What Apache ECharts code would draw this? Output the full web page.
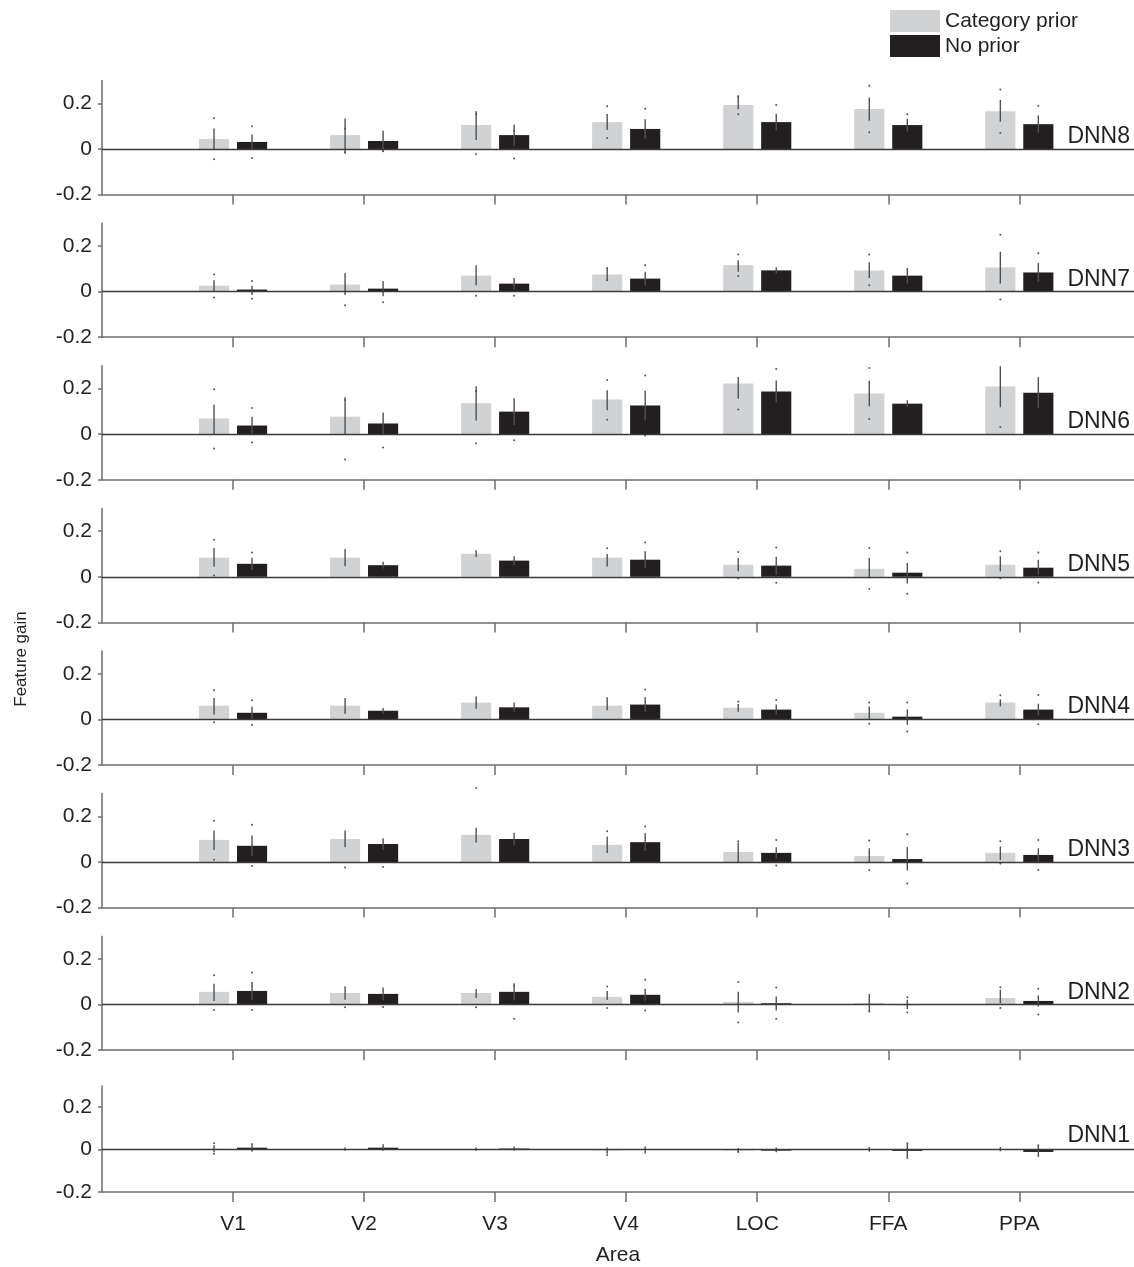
<!DOCTYPE html>
<html>
<head>
<meta charset="utf-8">
<script src="https://cdn.jsdelivr.net/npm/echarts@6/dist/echarts.min.js"></script>
<style>
html,body{margin:0;padding:0;background:#fff;}
#chart{width:1134px;height:1267px;}
</style>
</head>
<body>
<div id="chart"></div>
<script>
// ---------------- DATA ----------------
const layers = ['DNN8','DNN7','DNN6','DNN5','DNN4','DNN3','DNN2','DNN1'];
const areas = ['V1','V2','V3','V4','LOC','FFA','PPA'];
const yTicks = [-0.2, 0, 0.2];

// Category prior (light bars): mean per layer (rows) x area (cols)
const priorMean = [
  [0.044, 0.061, 0.105, 0.118, 0.193, 0.175, 0.166],
  [0.026, 0.031, 0.070, 0.075, 0.116, 0.093, 0.106],
  [0.069, 0.077, 0.136, 0.152, 0.222, 0.178, 0.209],
  [0.084, 0.084, 0.101, 0.084, 0.053, 0.035, 0.053],
  [0.060, 0.060, 0.074, 0.060, 0.051, 0.029, 0.074],
  [0.097, 0.101, 0.119, 0.075, 0.044, 0.026, 0.040],
  [0.056, 0.051, 0.051, 0.034, 0.012, 0.007, 0.029],
  [0.004, 0.003, 0.003, -0.004, -0.005, 0.003, 0.003]
];
const priorErrLo = [
  [0.000, -0.020, 0.040, 0.083, 0.174, 0.124, 0.120],
  [0.000, -0.015, 0.028, 0.046, 0.087, 0.060, 0.035],
  [0.000, 0.000, 0.060, 0.105, 0.155, 0.123, 0.118],
  [0.044, 0.046, 0.087, 0.045, 0.024, -0.006, 0.024],
  [0.021, 0.025, 0.047, 0.040, 0.034, 0.000, 0.057],
  [0.053, 0.065, 0.085, 0.040, 0.000, -0.003, 0.009],
  [0.016, 0.021, 0.029, 0.020, -0.035, -0.030, 0.006],
  [-0.012, -0.005, -0.005, -0.020, -0.015, -0.010, -0.008]
];
const priorErrHi = [
  [0.090, 0.134, 0.166, 0.153, 0.236, 0.226, 0.215],
  [0.050, 0.082, 0.116, 0.104, 0.138, 0.129, 0.175],
  [0.130, 0.162, 0.210, 0.193, 0.251, 0.234, 0.298],
  [0.126, 0.122, 0.116, 0.100, 0.082, 0.082, 0.090],
  [0.094, 0.094, 0.100, 0.097, 0.068, 0.057, 0.088],
  [0.138, 0.138, 0.150, 0.112, 0.085, 0.060, 0.068],
  [0.091, 0.081, 0.068, 0.060, 0.056, 0.047, 0.065],
  [0.020, 0.010, 0.010, 0.010, 0.008, 0.012, 0.012]
];
const priorDotHi = [
  [0.135, 0.090, 0.152, 0.188, 0.228, 0.277, 0.261],
  [0.075, null, null, 0.104, 0.163, 0.163, 0.249],
  [0.197, 0.150, 0.190, 0.238, null, 0.290, null],
  [0.162, null, null, 0.125, 0.109, 0.126, 0.112],
  [0.128, null, null, null, 0.079, 0.074, 0.106],
  [0.181, null, 0.325, 0.135, 0.091, 0.094, 0.091],
  [0.129, null, null, 0.079, 0.099, null, 0.076],
  [0.030, null, null, null, null, null, null]
];
const priorDotLo = [
  [-0.045, -0.015, -0.023, 0.048, 0.152, 0.074, 0.070],
  [-0.026, -0.060, -0.018, 0.050, 0.068, 0.028, -0.035],
  [-0.063, -0.111, -0.040, 0.063, 0.108, 0.067, 0.032],
  [0.006, null, null, null, -0.006, -0.053, -0.006],
  [-0.012, null, null, null, null, -0.019, null],
  [0.010, -0.024, null, null, null, -0.035, -0.007],
  [-0.024, -0.012, -0.012, -0.015, -0.079, -0.030, -0.015],
  [-0.020, null, null, -0.025, -0.010, null, null]
];

// No prior (dark bars)
const noPriorMean = [
  [0.031, 0.035, 0.061, 0.088, 0.118, 0.105, 0.109],
  [0.009, 0.013, 0.035, 0.057, 0.093, 0.070, 0.084],
  [0.038, 0.047, 0.099, 0.126, 0.187, 0.134, 0.182],
  [0.057, 0.051, 0.071, 0.075, 0.049, 0.018, 0.040],
  [0.029, 0.038, 0.053, 0.065, 0.043, 0.012, 0.043],
  [0.071, 0.079, 0.101, 0.087, 0.040, 0.013, 0.031],
  [0.060, 0.047, 0.056, 0.043, 0.006, -0.002, 0.016],
  [0.009, 0.009, 0.005, 0.000, -0.005, -0.006, -0.011]
];
const noPriorErrLo = [
  [-0.002, -0.012, 0.014, 0.045, 0.081, 0.077, 0.071],
  [-0.015, -0.020, 0.010, 0.027, 0.079, 0.036, 0.042],
  [0.000, 0.000, 0.040, 0.061, 0.139, 0.119, 0.114],
  [0.030, 0.036, 0.052, 0.038, 0.009, -0.029, 0.009],
  [0.000, 0.026, 0.032, 0.033, 0.021, -0.024, 0.017],
  [0.026, 0.054, 0.074, 0.048, 0.016, -0.037, 0.002],
  [0.021, 0.019, 0.018, 0.017, -0.026, -0.019, -0.009],
  [-0.010, -0.005, -0.005, -0.018, -0.012, -0.035, -0.028]
];
const noPriorErrHi = [
  [0.064, 0.080, 0.108, 0.131, 0.155, 0.133, 0.147],
  [0.026, 0.047, 0.060, 0.087, 0.107, 0.104, 0.126],
  [0.076, 0.095, 0.158, 0.191, 0.235, 0.149, 0.250],
  [0.084, 0.066, 0.090, 0.112, 0.088, 0.060, 0.075],
  [0.057, 0.050, 0.074, 0.097, 0.065, 0.043, 0.069],
  [0.116, 0.104, 0.128, 0.126, 0.065, 0.066, 0.060],
  [0.099, 0.075, 0.094, 0.069, 0.035, 0.021, 0.040],
  [0.030, 0.025, 0.015, 0.015, 0.010, 0.030, 0.020]
];
const noPriorDotHi = [
  [0.100, null, 0.080, 0.177, 0.193, 0.152, 0.190],
  [0.046, null, null, 0.116, null, null, 0.168],
  [0.115, null, null, 0.258, 0.286, null, null],
  [0.107, null, null, 0.150, 0.129, 0.107, 0.107],
  [0.084, null, null, 0.131, 0.085, 0.074, 0.107],
  [0.163, null, null, 0.156, 0.096, 0.122, 0.097],
  [0.141, null, 0.084, 0.109, 0.075, 0.032, 0.069],
  [null, null, null, null, null, 0.030, 0.020]
];
const noPriorDotLo = [
  [-0.040, -0.010, -0.042, null, null, null, null],
  [-0.031, -0.047, -0.018, null, null, null, null],
  [-0.036, -0.058, -0.026, -0.006, null, null, null],
  [null, null, null, null, -0.026, -0.074, -0.025],
  [-0.025, null, null, null, null, -0.053, -0.021],
  [-0.018, -0.022, null, null, -0.015, -0.094, -0.035],
  [-0.024, -0.010, -0.062, -0.026, -0.062, -0.035, -0.043],
  [null, null, null, null, null, -0.040, -0.030]
];

// ---------------- STYLE / LAYOUT ----------------
const FONT = "'Liberation Sans', Arial, Helvetica, sans-serif";
const LIGHT = '#d1d2d4';
const DARK = '#231f20';
const AXIS = '#6e6e6e';
const TEXT = '#231f20';
const BW = 0.23;      // bar width in x-axis units
const OFF = 0.145;    // bar offset from category centre
const gridTops = [80.6, 223.2, 365.8, 508.4, 651.0, 793.6, 936.2, 1086.0];
const gridH = 114;

const grids = [], xAxes = [], yAxes = [], series = [], graphics = [];

function barSeries(gi, means, color, off, name, withZero) {
  const s = {
    type: 'custom', name: name, xAxisIndex: gi, yAxisIndex: gi,
    itemStyle: {color: color}, z: 2,
    data: means.map((m, i) => [i + 1, m]),
    renderItem: function (params, api) {
      const x = api.value(0) + off, y = api.value(1);
      const p0 = api.coord([x - BW / 2, 0]);
      const p1 = api.coord([x + BW / 2, y]);
      return {
        type: 'rect',
        shape: {x: p0[0], y: Math.min(p0[1], p1[1]), width: p1[0] - p0[0], height: Math.abs(p1[1] - p0[1])},
        style: {fill: color}
      };
    }
  };
  if (withZero) {
    s.markLine = {
      silent: true, symbol: 'none', animation: false,
      label: {show: false},
      lineStyle: {color: '#3a3a3a', width: 1.3, type: 'solid'},
      data: [{yAxis: 0}]
    };
  }
  return s;
}

function errSeries(gi, lo, hi, off) {
  return {
    type: 'custom', xAxisIndex: gi, yAxisIndex: gi, z: 3, silent: true,
    data: lo.map((l, i) => [i + 1, l, hi[i]]),
    renderItem: function (params, api) {
      const x = api.value(0) + off;
      const a = api.coord([x, api.value(1)]);
      const b = api.coord([x, api.value(2)]);
      return {type: 'line', shape: {x1: a[0], y1: a[1], x2: b[0], y2: b[1]},
        style: {stroke: '#505050', lineWidth: 1.4}};
    }
  };
}

function dotSeries(gi, vals, off) {
  const d = [];
  vals.forEach((v, i) => { if (v !== null) d.push([i + 1, v]); });
  return {
    type: 'custom', xAxisIndex: gi, yAxisIndex: gi, z: 4, silent: true,
    data: d,
    renderItem: function (params, api) {
      const p = api.coord([api.value(0) + off, api.value(1)]);
      return {type: 'circle', shape: {cx: p[0], cy: p[1], r: 1}, style: {fill: '#555'}};
    }
  };
}

layers.forEach((layer, gi) => {
  const last = gi === layers.length - 1;
  grids.push({left: 102, right: 0, top: gridTops[gi], height: gridH});
  xAxes.push({
    type: 'value', gridIndex: gi, min: 0, max: 7.875,
    axisLine: {show: true, onZero: false, lineStyle: {color: AXIS, width: 1.5}},
    axisTick: {show: true, inside: false, length: 10, customValues: areas.map((a, i) => i + 1),
      lineStyle: {color: AXIS, width: 1.5}},
    axisLabel: {show: last, customValues: areas.map((a, i) => i + 1),
      formatter: v => areas[Math.round(v) - 1] || '',
      fontFamily: FONT, fontSize: 21, color: TEXT, margin: 22},
    splitLine: {show: false},
    name: last ? 'Area' : '', nameLocation: 'middle', nameGap: 53,
    nameTextStyle: {fontFamily: FONT, fontSize: 21, color: TEXT}
  });
  yAxes.push({
    type: 'value', gridIndex: gi, min: -0.2, max: 0.3,
    axisLine: {show: true, onZero: false, lineStyle: {color: AXIS, width: 1.5}},
    axisTick: {show: true, inside: false, length: 4, customValues: yTicks,
      lineStyle: {color: AXIS, width: 1.5}},
    axisLabel: {customValues: yTicks, formatter: v => (Math.abs(v) < 1e-9 ? '0' : String(v)),
      fontFamily: FONT, fontSize: 21, color: TEXT, margin: 10},
    splitLine: {show: false}
  });
  series.push(barSeries(gi, priorMean[gi], LIGHT, -OFF, 'Category prior', true));
  series.push(barSeries(gi, noPriorMean[gi], DARK, OFF, 'No prior', false));
  series.push(errSeries(gi, priorErrLo[gi], priorErrHi[gi], -OFF));
  series.push(errSeries(gi, noPriorErrLo[gi], noPriorErrHi[gi], OFF));
  series.push(dotSeries(gi, priorDotHi[gi], -OFF));
  series.push(dotSeries(gi, priorDotLo[gi], -OFF));
  series.push(dotSeries(gi, noPriorDotHi[gi], OFF));
  series.push(dotSeries(gi, noPriorDotLo[gi], OFF));
  graphics.push({
    type: 'text', x: 1130, y: gridTops[gi] + (last ? 50 : 56), z: 10,
    style: {text: layer, textAlign: 'right', textVerticalAlign: 'middle',
      font: '23px ' + FONT, fill: TEXT}
  });
});

graphics.push({
  type: 'text', x: 21, y: 659, rotation: Math.PI / 2, z: 10,
  style: {text: 'Feature gain', textAlign: 'center', textVerticalAlign: 'middle',
    font: '17px ' + FONT, fill: TEXT}
});

const chart = echarts.init(document.getElementById('chart'), null, {renderer: 'canvas'});
chart.setOption({
  animation: false,
  backgroundColor: '#fff',
  legend: {
    left: 885, top: 5, orient: 'vertical', itemWidth: 50, itemHeight: 22, itemGap: 3,
    selectedMode: false,
    textStyle: {fontFamily: FONT, fontSize: 21, color: TEXT},
    data: [
      {name: 'Category prior', icon: 'rect', itemStyle: {color: LIGHT}},
      {name: 'No prior', icon: 'rect', itemStyle: {color: DARK}}
    ]
  },
  grid: grids,
  xAxis: xAxes,
  yAxis: yAxes,
  series: series,
  graphic: graphics
});
</script>
</body>
</html>
